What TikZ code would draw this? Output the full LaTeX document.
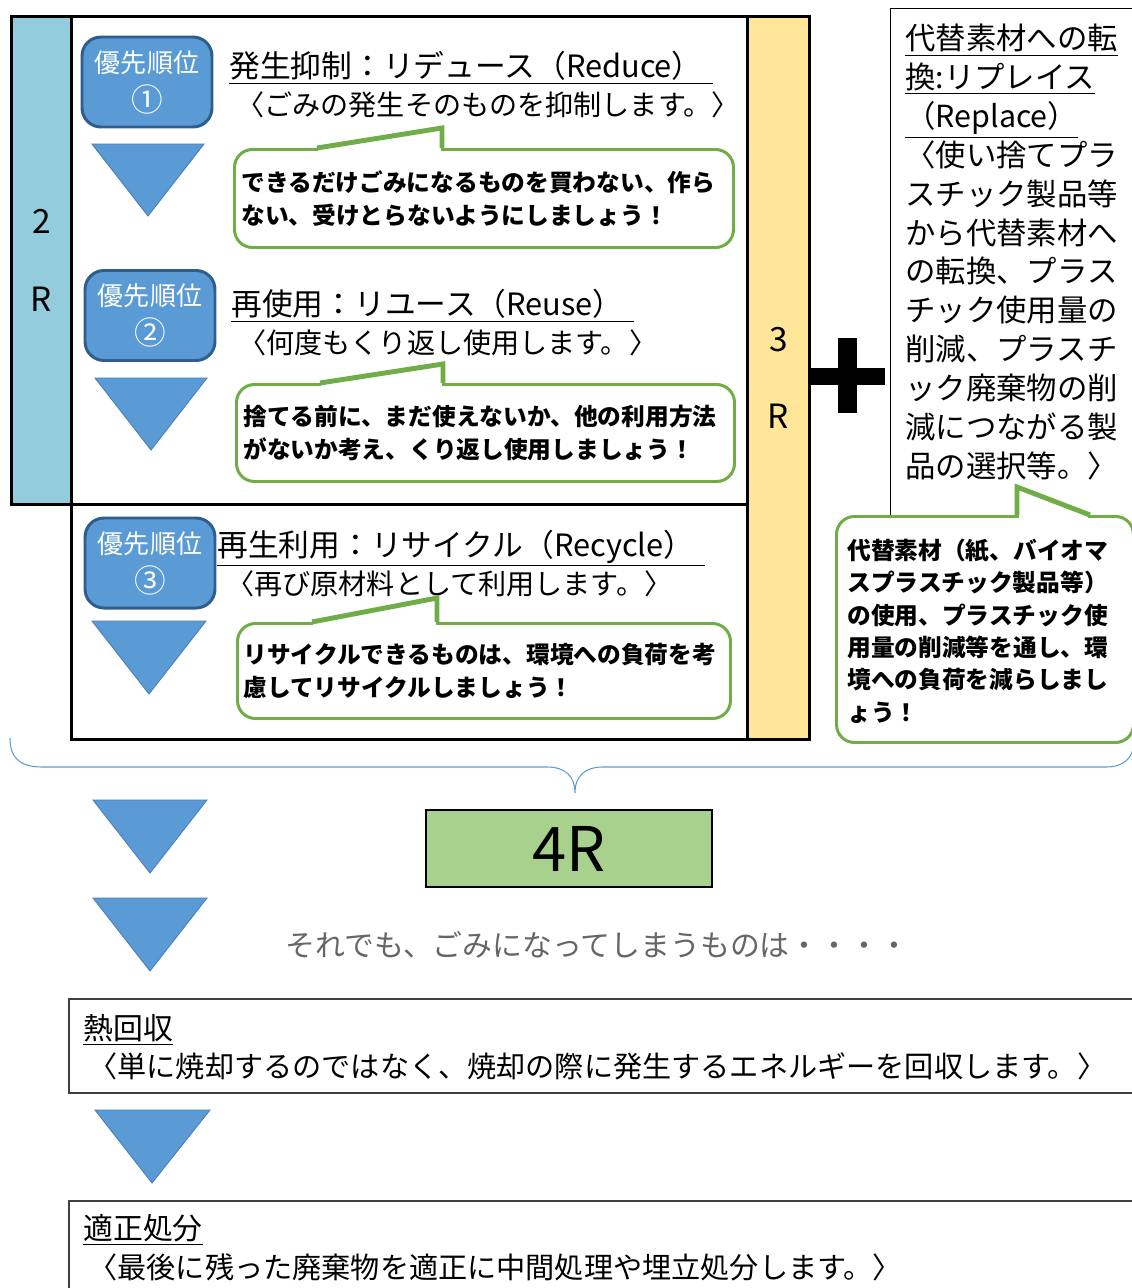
\documentclass[tikz,border=0pt]{standalone}
\usepackage{fontspec}
\setmainfont{Noto Sans CJK JP}
\usetikzlibrary{positioning}
\newcommand{\pxu}{0.02cm}
\newcommand{\bignum}[1]{{\fontsize{18}{22.2}\selectfont #1}}
\definecolor{twoRcol}{HTML}{93CDDD}
\definecolor{threeRcol}{HTML}{FFE699}
\definecolor{badgefill}{HTML}{5B9BD5}
\definecolor{badgeline}{HTML}{2F5D8C}
\definecolor{triline}{HTML}{4A7EBB}
\definecolor{calloutline}{HTML}{70AD47}
\definecolor{fourRcol}{HTML}{A9D18E}
\definecolor{softgray}{HTML}{666666}
\definecolor{boxline}{HTML}{404040}
\tikzstyle{frame} = [rectangle, draw=black, line width=1.7pt, anchor=north west, inner sep=0pt]
\tikzstyle{column} = [frame, align=center, font=\fontsize{19}{44}\selectfont]
\tikzstyle{badge} = [rectangle, draw=badgeline, line width=1.7pt, fill=badgefill, rounded corners=0.38cm,
text=white, align=center, inner sep=0pt, minimum width=130*\pxu, minimum height=90*\pxu,
font=\fontsize{14.8}{22.2}\selectfont]
\tikzstyle{downtri} = [fill=badgefill, draw=triline, line width=0.5pt]
\tikzstyle{callout} = [rectangle, draw=calloutline, line width=1.7pt, fill=white, rounded corners=0.36cm,
anchor=north west, inner sep=0pt]
\tikzstyle{pointer} = [draw=calloutline, fill=white, line width=2.8pt, line join=miter]
\tikzstyle{calltext} = [anchor=west, align=left, inner sep=0pt, font=\bfseries\fontsize{13.5}{18.8}\selectfont]
\tikzstyle{heading} = [anchor=base west, inner sep=0pt, font=\fontsize{17.5}{21}\selectfont]
\tikzstyle{subline} = [anchor=base west, inner sep=0pt, font=\fontsize{16}{20}\selectfont]
\tikzstyle{lowbox} = [rectangle, draw=boxline, line width=1pt, anchor=north west, inner sep=0pt]
\tikzstyle{lowtitle} = [anchor=base west, inner sep=0pt, font=\fontsize{17}{21}\selectfont]
\tikzstyle{lowline} = [anchor=base west, inner sep=0pt, font=\fontsize{16.6}{20}\selectfont]
\tikzstyle{brace} = [draw=badgefill, line width=0.6pt]
\begin{document}
\begin{tikzpicture}[x=\pxu, y=-\pxu]
				\useasboundingbox (0,0) rectangle (1132,1288);
				\clip (0,0) rectangle (1132,1288);

				% Frames of 2R and 3R
				\node (twoR) [column, fill=twoRcol, minimum width=60*\pxu, minimum height=488*\pxu] at (10,15) {2\\R};
				\node (upperbox) [frame, minimum width=676*\pxu, minimum height=488*\pxu] at (70,15) {};
				\node (recyclebox) [frame, minimum width=676*\pxu, minimum height=235*\pxu] at (70,503) {};
				\node (threeR) [column, fill=threeRcol, minimum width=62*\pxu, minimum height=723*\pxu] at (746,15) {3\\R};

				% Priority badges
				\node (prio1) [badge] at (147,82) {優先順位\\\bignum{①}};
				\node (prio2) [badge] at (150,315.5) {優先順位\\\bignum{②}};
				\node (prio3) [badge] at (150,563) {優先順位\\\bignum{③}};

				% Down triangles
				\draw [downtri] (92,144) -- (204,144) -- (148,216) -- cycle;
				\draw [downtri] (95,378) -- (207,378) -- (151,450) -- cycle;
				\draw [downtri] (92,621) -- (206,621) -- (149,694) -- cycle;
				\draw [downtri] (93,800) -- (207,800) -- (150,873) -- cycle;
				\draw [downtri] (93,898) -- (207,898) -- (150,971) -- cycle;
				\draw [downtri] (95,1110) -- (210,1110) -- (152,1183) -- cycle;

				% Headings of the 3R
				\node (reduce) [heading] at (229,77.5) {\underline{発生抑制：リデュース（Reduce）\hspace{6pt}}};
				\node (reducesub) [subline] at (236,115) {〈ごみの発生そのものを抑制します。〉};
				\node (reuse) [heading] at (231,315.5) {\underline{再使用：リユース（Reuse）\hspace{6pt}}};
				\node (reusesub) [subline] at (238,353) {〈何度もくり返し使用します。〉};
				\node (recycle) [heading] at (217,556) {\underline{再生利用：リサイクル（Recycle）\hspace{6pt}}};
				\node (recyclesub) [subline] at (226,594) {〈再び原材料として利用します。〉};

				% Callouts
				\node (call1) [callout, minimum width=499*\pxu, minimum height=98*\pxu] at (233,148) {};
				\fill [white] (318,146) rectangle (441,150.5);
				\draw [pointer] (317,148) -- (442,128) -- (442,148);
				\node (call1text) [calltext] at (241,198.5) {できるだけごみになるものを買わない、作ら\\ない、受けとらないようにしましょう！};

				\node (call2) [callout, minimum width=498*\pxu, minimum height=97*\pxu] at (235,383) {};
				\fill [white] (321,381) rectangle (442,385.5);
				\draw [pointer] (320,383) -- (443,364) -- (443,383);
				\node (call2text) [calltext] at (243,433) {捨てる前に、まだ使えないか、他の利用方法\\がないか考え、くり返し使用しましょう！};

				\node (call3) [callout, minimum width=493*\pxu, minimum height=95*\pxu] at (236,622) {};
				\fill [white] (313,620) rectangle (436,624.5);
				\draw [pointer] (312,622) -- (437,598) -- (437,622);
				\node (call3text) [calltext] at (243,671) {リサイクルできるものは、環境への負荷を考\\慮してリサイクルしましょう！};

				% Plus and Replace
				\fill (808,368) rectangle (885,385);
				\fill (838,338) rectangle (857,413);
				\node (replacebox) [rectangle, draw=black, line width=0.8pt, anchor=north west, minimum width=260*\pxu, minimum height=522*\pxu] at (890,8) {};
				\node (replace) [anchor=north west, align=left, inner sep=0pt, font=\fontsize{17.3}{22.1}\selectfont] at (905,24)
				{\underline{代替素材への転}\\\underline{換:リプレイス}\\\underline{（Replace）}\\〈使い捨てプラ\\スチック製品等\\から代替素材へ\\の転換、プラス\\チック使用量の\\削減、プラスチ\\ック廃棄物の削\\減につながる製\\品の選択等。〉};

				\node (call4) [callout, minimum width=297*\pxu, minimum height=226*\pxu] at (835,515) {};
				\fill [white] (1019,513) rectangle (1088,517.5);
				\draw [pointer] (1017,515) -- (1017,487) -- (1090,515);
				\node (call4text) [calltext, font=\bfseries\fontsize{13.5}{18.4}\selectfont] at (847,631) {代替素材（紙、バイオマ\\スプラスチック製品等）\\の使用、プラスチック使\\用量の削減等を通し、環\\境への負荷を減らしまし\\ょう！};

				% Brace and 4R
				\draw [brace] (10,738) .. controls (10,758) and (20,767) .. (42,767) -- (547,767)
				.. controls (565,767) and (575,776) .. (575,793)
				.. controls (575,776) and (585,767) .. (603,767) -- (1106,767)
				.. controls (1124,767) and (1132,758) .. (1134,745);
				\node (fourR) [rectangle, draw=black, line width=1pt, fill=fourRcol, minimum width=286*\pxu, minimum height=77*\pxu,
				font=\fontsize{35}{40}\selectfont] at (569,848.5) {4R};
				\node (still) [anchor=base west, inner sep=0pt, text=softgray, font=\fontsize{17}{21}\selectfont] at (285,956) {それでも、ごみになってしまうものは・・・・};

				% Heat recovery and disposal
				\node (heatbox) [lowbox, minimum width=1080*\pxu, minimum height=94*\pxu] at (68,998) {};
				\node (heat) [lowtitle] at (83,1039) {\underline{熱回収}};
				\node (heatsub) [lowline] at (88,1077) {〈単に焼却するのではなく、焼却の際に発生するエネルギーを回収します。〉};
				\node (disposalbox) [lowbox, minimum width=1080*\pxu, minimum height=100*\pxu] at (68,1200) {};
				\node (disposal) [lowtitle] at (83,1239) {\underline{適正処分}};
				\node (disposalsub) [lowline] at (88,1278) {〈最後に残った廃棄物を適正に中間処理や埋立処分します。〉};

			\end{tikzpicture}
\end{document}
